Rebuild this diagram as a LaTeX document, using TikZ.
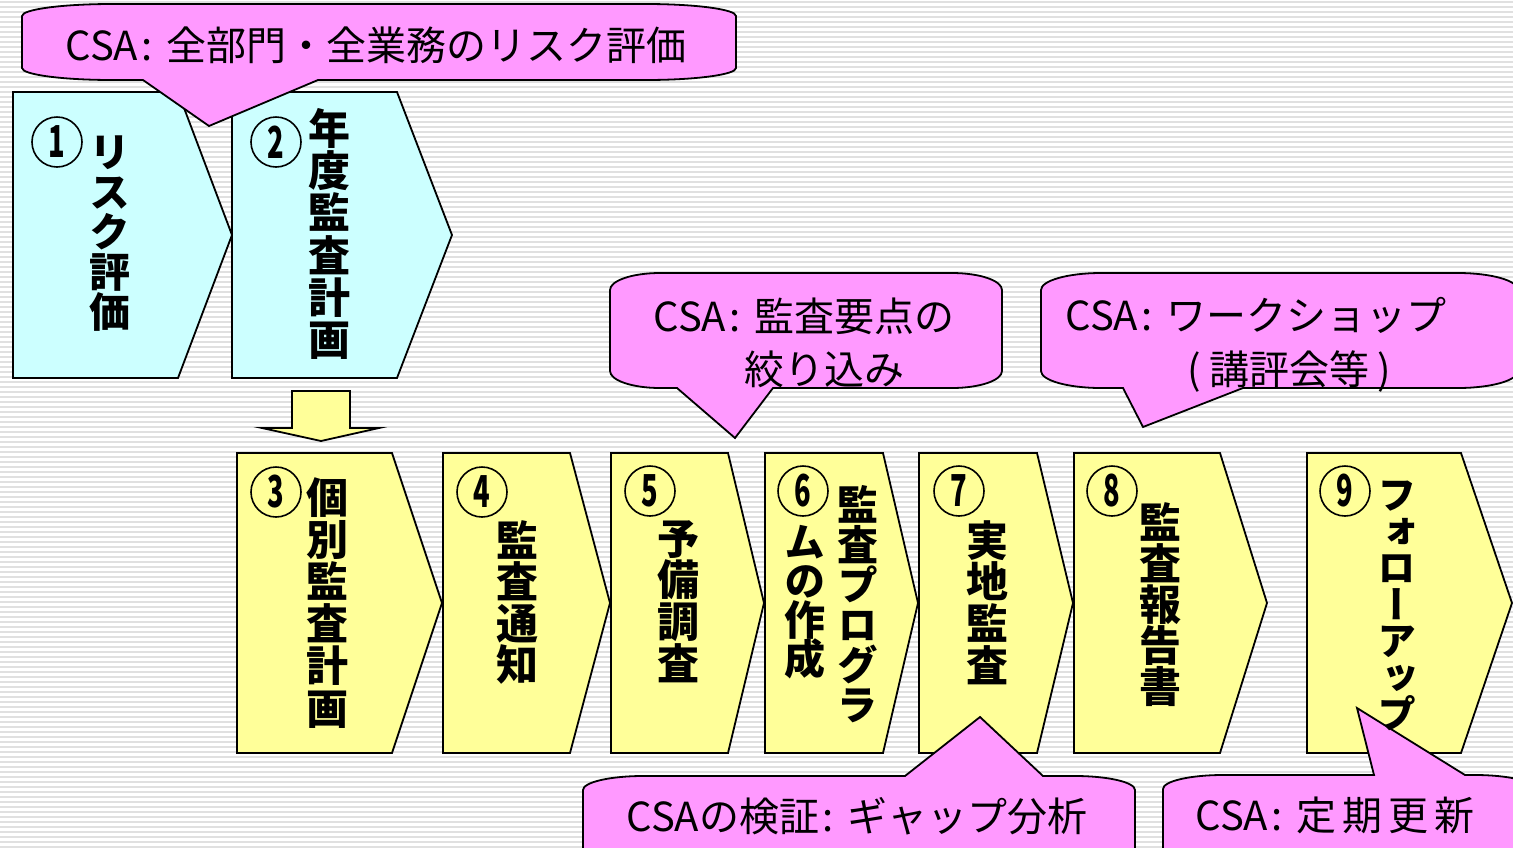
\documentclass[tikz,border=0pt]{standalone}
\usepackage{fontspec}
\newfontfamily\jp{Noto Sans CJK JP}
\newfontfamily\jpv{Noto Sans CJK JP}[RawFeature=+vert]
\definecolor{cyanfill}{HTML}{CCFFFF}
\definecolor{yelfill}{HTML}{FFFF99}
\definecolor{pinkfill}{HTML}{FF99FF}
\definecolor{stripecol}{HTML}{E0E0E0}
\newcommand\chevbox[6]{\draw[boxline,fill=#1] (#2,#5) -- (#3,#5) -- (#4,{(#5+#6)/2}) -- (#3,#6) -- (#2,#6) -- cycle;}
\newcommand\dig[1]{\scalebox{0.62}[1]{#1}}
\newcommand\vfnt[2]{\jpv\bfseries\fontsize{#1}{#2}\selectfont\lineskiplimit=-50pt\relax}
\newcommand\csacolon{\kern3pt:\kern14pt}
\begin{document}
\begin{tikzpicture}[x=1pt,y=-1pt,
  boxline/.style={draw=black,line width=1.8pt},
  calloutshape/.style={draw=black,line width=1.8pt,fill=pinkfill},
  cnum/.style={draw=black,line width=1.6pt,circle,minimum size=50pt,inner sep=0pt,
    font=\jp\bfseries\fontsize{44}{44}\selectfont},
  vcol/.style={anchor=north,align=center,inner sep=0pt},
  ctext/.style={inner sep=0pt,font=\jp\fontsize{40}{40}\selectfont}]
\useasboundingbox (0,0) rectangle (1513,847);
\clip (0,0) rectangle (1513,847);
% background stripes
\fill[white] (0,0) rectangle (1513,847);
\foreach \yy in {2,7,...,847} \draw[stripecol,line width=2pt] (0,\yy) -- (1513,\yy);

% process boxes
\chevbox{cyanfill}{13}{178}{232}{92}{378}
\chevbox{cyanfill}{232}{397}{452}{92}{378}
\chevbox{yelfill}{237}{392}{442}{453}{753}
\chevbox{yelfill}{443}{570}{610}{453}{753}
\chevbox{yelfill}{611}{728}{764}{453}{753}
\chevbox{yelfill}{765}{883}{918}{453}{753}
\chevbox{yelfill}{919}{1037}{1073}{453}{753}
\chevbox{yelfill}{1074}{1220}{1267}{453}{753}
\chevbox{yelfill}{1307}{1461}{1512}{453}{753}

% block arrow down
\draw[boxline,fill=yelfill] (292,391) -- (350,391) -- (350,428) -- (379,428) -- (321,441) -- (262,428) -- (292,428) -- cycle;

% callouts
\draw[calloutshape] (22,16) arc[start angle=180,end angle=270,x radius=90,y radius=12]
  -- (646,4) arc[start angle=270,end angle=360,x radius=90,y radius=12]
  -- (736,68) arc[start angle=0,end angle=90,x radius=90,y radius=12]
  -- (318,80) -- (209,126) -- (143,80) -- (112,80)
  arc[start angle=90,end angle=180,x radius=90,y radius=12] -- cycle;
\draw[calloutshape] (610,290) arc[start angle=180,end angle=270,x radius=50,y radius=17]
  -- (952,273) arc[start angle=270,end angle=360,x radius=50,y radius=17]
  -- (1002,371) arc[start angle=0,end angle=90,x radius=50,y radius=17]
  -- (773,388) -- (735,438) -- (677,388) -- (660,388)
  arc[start angle=90,end angle=180,x radius=50,y radius=17] -- cycle;
\draw[calloutshape] (1041,290) arc[start angle=180,end angle=270,x radius=60,y radius=17]
  -- (1458,273) arc[start angle=270,end angle=360,x radius=60,y radius=17]
  -- (1518,371) arc[start angle=0,end angle=90,x radius=60,y radius=17]
  -- (1243,388) -- (1143,427) -- (1123,388) -- (1101,388)
  arc[start angle=90,end angle=180,x radius=60,y radius=17] -- cycle;
\draw[calloutshape] (583,790) arc[start angle=180,end angle=270,x radius=60,y radius=14]
  -- (905,776) -- (980,717) -- (1043,776) -- (1075,776)
  arc[start angle=270,end angle=360,x radius=60,y radius=14]
  -- (1135,856) arc[start angle=0,end angle=90,x radius=60,y radius=14]
  -- (643,870) arc[start angle=90,end angle=180,x radius=60,y radius=14] -- cycle;
\draw[calloutshape] (1163,789) arc[start angle=180,end angle=270,x radius=60,y radius=14]
  -- (1374,775) -- (1357,708) -- (1465,775) -- (1475,775)
  arc[start angle=270,end angle=360,x radius=60,y radius=14]
  -- (1535,856) arc[start angle=0,end angle=90,x radius=60,y radius=14]
  -- (1223,870) arc[start angle=90,end angle=180,x radius=60,y radius=14] -- cycle;

% callout texts
\node[ctext] (c1) at (376,45) {CSA\csacolon 全部門・全業務のリスク評価};
\node[ctext] (c3a) at (804,316) {CSA\csacolon 監査要点の};
\node[ctext] (c3b) at (824,369) {絞り込み};
\node[ctext] (c4a) at (1256,315) {CSA\csacolon ワークショップ};
\node[ctext] (c4b) at (1289,372) {(\kern8pt講評会等\kern8pt)};
\node[ctext] (c7) at (857,816) {CSAの検証\csacolon ギャップ分析};
\node[ctext] (c9) at (1335,815) {CSA\csacolon 定\kern6pt期\kern6pt更\kern6pt新};

% circled numbers
\node[cnum] (n1) at (57,142) {\dig{1}};
\node[cnum] (n2) at (276,142) {\dig{2}};
\node[cnum] (n3) at (276,492) {\dig{3}};
\node[cnum] (n4) at (482,492) {\dig{4}};
\node[cnum] (n5) at (650,491) {\dig{5}};
\node[cnum] (n6) at (803,491) {\dig{6}};
\node[cnum] (n7) at (959,491) {\dig{7}};
\node[cnum] (n8) at (1112,491) {\dig{8}};
\node[cnum] (n9) at (1345,491) {\dig{9}};

% vertical labels
\node[vcol,font=\vfnt{41}{40}] (t1) at (110,136) {リ\\ス\\ク\\評\\価};
\node[vcol,font=\vfnt{42}{42.3}] (t2) at (329,108) {年\\度\\監\\査\\計\\画};
\node[vcol,font=\vfnt{42}{42.2}] (t3) at (327,477) {個\\別\\監\\査\\計\\画};
\node[vcol,font=\vfnt{42}{41.5}] (t4) at (517,520) {監\\査\\通\\知};
\node[vcol,font=\vfnt{42}{41.7}] (t5) at (678,520) {予\\備\\調\\査};
\node[vcol,font=\vfnt{41}{40}] (t6a) at (858,485) {監\\査\\プ\\ロ\\グ\\ラ};
\node[vcol,font=\vfnt{41}{39}] (t6b) at (805,525) {ム\\の\\作\\成};
\node[vcol,font=\vfnt{42}{41.7}] (t7) at (987,520) {実\\地\\監\\査};
\node[vcol,font=\vfnt{42}{41}] (t8) at (1160,502) {監\\査\\報\\告\\書};
\node[vcol,font=\vfnt{39}{36.5}] (t9) at (1397,481) {フ\\ォ\\ロ\\ー\\ア\\ッ\\プ};
\end{tikzpicture}
\end{document}
